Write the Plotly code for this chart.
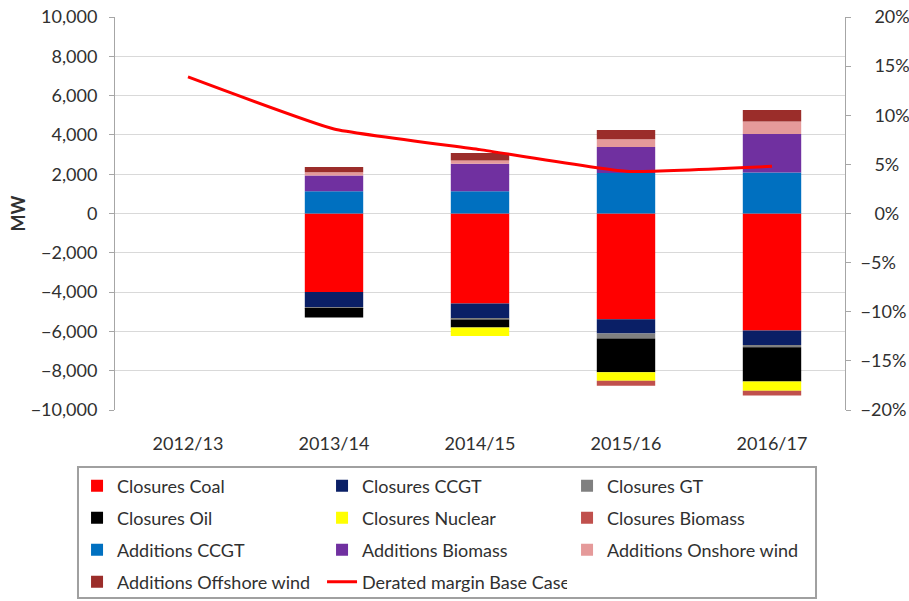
import plotly.graph_objects as go

# Financial years on the category axis
years = ["2012/13", "2013/14", "2014/15", "2015/16", "2016/17"]

# Capacity changes (MW); closures are negative, additions positive
closures_coal = [None, -4000, -4580, -5380, -5960]
closures_ccgt = [None, -760, -760, -730, -730]
closures_gt = [None, -50, -70, -250, -120]
closures_oil = [None, -480, -390, -1720, -1740]
closures_nuclear = [None, 0, -430, -430, -470]
closures_biomass = [None, 0, 0, -250, -240]
additions_ccgt = [None, 1130, 1130, 2060, 2090]
additions_biomass = [None, 800, 1400, 1320, 1950]
additions_onshore_wind = [None, 170, 170, 400, 640]
additions_offshore_wind = [None, 270, 375, 470, 590]

# Derated margin, base case (fraction of demand)
derated_margin = [0.139, 0.086, 0.065, 0.043, 0.048]

mw_ticks = list(range(-10000, 10001, 2000))
pct_ticks = [i / 100 for i in range(-20, 21, 5)]
# Percent labels: digits line up, the minus sign hangs to the left
pct_labels = [("\u2212" if v < 0 else "\u00a0" * 3) + f"{abs(round(v * 100))}%" for v in pct_ticks]

TEXT = "#303030"
FONT = "Lato"

bar_series = [
    ("Closures Coal", closures_coal, "#FF0000", "legend"),
    ("Closures CCGT", closures_ccgt, "#0A1F66", "legend"),
    ("Closures GT", closures_gt, "#808080", "legend"),
    ("Closures Oil", closures_oil, "#000000", "legend2"),
    ("Closures Nuclear", closures_nuclear, "#FFFF00", "legend2"),
    ("Closures Biomass", closures_biomass, "#C0504D", "legend2"),
    ("Additions CCGT", additions_ccgt, "#0070C0", "legend3"),
    ("Additions Biomass", additions_biomass, "#7030A0", "legend3"),
    ("Additions Onshore wind", additions_onshore_wind, "#E59A9A", "legend3"),
    ("Additions Offshore wind", additions_offshore_wind, "#9B2D2A", "legend4"),
]

fig = go.Figure()
for name, vals, color, leg in bar_series:
    fig.add_trace(go.Bar(
        x=years, y=vals, name=name, legend=leg,
        marker=dict(color=color, line=dict(width=0)),
        width=0.4,
    ))

fig.add_trace(go.Scatter(
    x=years, y=derated_margin, name="Derated margin Base Case",
    yaxis="y2", mode="lines", legend="legend4",
    line=dict(color="#FF0000", width=3, shape="spline", smoothing=0.4),
))

row_y = [-0.1934, -0.2748, -0.3562, -0.4377]
legend_common = dict(
    orientation="h", x=-0.052, xanchor="left", yanchor="middle",
    entrywidth=200, entrywidthmode="pixels",
    font=dict(family=FONT, size=18, color=TEXT),
    bgcolor="rgba(0,0,0,0)", borderwidth=0, traceorder="normal",
)

fig.update_layout(
    width=909, height=601,
    margin=dict(l=115, r=64, t=17, b=191, autoexpand=False),
    paper_bgcolor="white", plot_bgcolor="white",
    barmode="relative", bargap=0.6,
    font=dict(family=FONT, size=18, color=TEXT),
    legend=dict(legend_common, y=row_y[0]),
    legend2=dict(legend_common, y=row_y[1]),
    legend3=dict(legend_common, y=row_y[2]),
    legend4=dict(legend_common, y=row_y[3]),
    xaxis=dict(
        type="category", categoryorder="array", categoryarray=years,
        showgrid=False, showline=False, ticks="", zeroline=False,
        tickfont=dict(family=FONT, size=18, color=TEXT),
        ticklabelstandoff=21, automargin=False,
    ),
    yaxis=dict(
        range=[-10000, 10000], tickvals=mw_ticks, tickformat=",d",
        showgrid=True, gridcolor="#D9D9D9", gridwidth=1,
        zeroline=False, showline=True, linecolor="#A6A6A6", linewidth=1,
        ticks="outside", ticklen=5, tickcolor="#A6A6A6",
        tickfont=dict(family=FONT, size=18, color=TEXT),
        ticklabelstandoff=8,
        title=dict(text="<b>MW</b>", font=dict(family=FONT, size=18, color=TEXT), standoff=0),
        automargin=False,
    ),
    yaxis2=dict(
        range=[-0.2, 0.2], tickvals=pct_ticks, ticktext=pct_labels,
        overlaying="y", side="right", showgrid=False, zeroline=False,
        showline=True, linecolor="#A6A6A6", linewidth=1,
        ticks="outside", ticklen=5, tickcolor="#A6A6A6",
        tickfont=dict(family=FONT, size=18, color=TEXT),
        ticklabelstandoff=6, automargin=False,
    ),
    shapes=[dict(
        type="rect", xref="paper", yref="paper",
        x0=-0.0507, x1=0.9603, y0=-0.4784, y1=-0.145,
        line=dict(color="#A0A0A0", width=2), fillcolor="rgba(0,0,0,0)",
        layer="below",
    )],
)

fig.write_html("out.html")
